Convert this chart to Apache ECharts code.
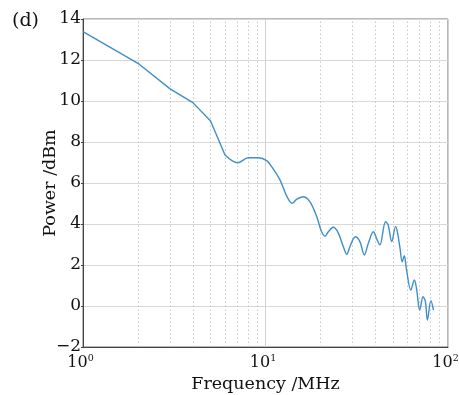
<!DOCTYPE html>
<html><head><meta charset="utf-8">
<script src="https://cdn.jsdelivr.net/npm/echarts@6/dist/echarts.min.js"></script>
<style>html,body{margin:0;padding:0;background:#fff}#c{width:459px;height:395px}</style>
</head><body><div id="c"></div>
<script>
var freqA = [1, 2, 3, 4, 5, 6];
var powerA = [13.38, 11.84, 10.59, 9.92, 9.02, 7.37];
var freqB = [6, 7.04, 8.05, 9.13, 10.15, 10.8, 12.0, 13.17, 14.0, 14.8, 16.1, 17.5, 19.07, 20.3, 21.2, 22.1, 23.5, 25.0, 26.7, 27.9, 29.0, 31.1, 32.9, 34.8, 36.6, 39.0, 41.0, 42.3, 45.5, 47.0, 49.2, 51.6, 52.8, 54.6, 56.1, 57.6, 59.1, 62.6, 65.4, 67.2, 70.0, 73.0, 75.2, 77.1, 80.6, 83.2];
var powerB = [7.37, 6.99, 7.23, 7.23, 7.09, 6.8, 6.15, 5.30, 5.01, 5.20, 5.33, 5.09, 4.36, 3.62, 3.41, 3.62, 3.84, 3.58, 2.89, 2.52, 2.89, 3.38, 3.14, 2.49, 3.06, 3.62, 3.2, 2.98, 4.11, 3.95, 3.14, 3.87, 3.62, 2.81, 2.16, 2.45, 1.84, 0.78, 1.27, 0.86, -0.2, 0.45, 0.21, -0.68, 0.26, -0.2];
var yTicks = [-2, 0, 2, 4, 6, 8, 10, 12, 14];
var minorX = [2, 3, 4, 5, 6, 7, 8, 9, 20, 30, 40, 50, 60, 70, 80, 90];

function pairs(xs, ys) { return xs.map(function (f, i) { return [f, ys[i]]; }); }
var FONT = 'DejaVu Serif';
var LINE = { color: '#3f8fc8', width: 1.4 };
var chart = echarts.init(document.getElementById('c'));
chart.setOption({
  animation: false,
  backgroundColor: '#fff',
  grid: { left: 83, top: 19, right: 11, bottom: 48, show: true, borderColor: '#707070', borderWidth: 1, outerBoundsMode: 'none', containLabel: false },
  title: { text: '(d)', left: 7, top: 7, textStyle: { fontFamily: FONT, fontSize: 19, fontWeight: 'normal', color: '#111' } },
  xAxis: {
    type: 'log', logBase: 10, min: 1, max: 100,
    name: 'Frequency /MHz', nameLocation: 'middle', nameGap: 28, nameMoveOverlap: false,
    nameTextStyle: { fontFamily: FONT, fontSize: 17.5, color: '#111' },
    axisLine: { onZero: false, lineStyle: { color: '#444', width: 1 } },
    axisTick: { show: false },
    splitLine: { show: true, lineStyle: { color: '#d0d0d0', width: 1 } },
    axisLabel: {
      margin: 7, padding: [0, 5, 0, 0],
      formatter: function (v) { var e = Math.round(Math.log10(v)); return '{b|10}{s|' + e + '}'; },
      rich: { b: { fontFamily: FONT, fontSize: 16, color: '#111' }, s: { fontFamily: FONT, fontSize: 9.5, color: '#111', verticalAlign: 'top', padding: [0, 0, 7, 0] } }
    }
  },
  yAxis: {
    type: 'value', min: -2, max: 14, interval: 2,
    name: 'Power /dBm', nameLocation: 'middle', nameGap: 24, nameMoveOverlap: false,
    nameTextStyle: { fontFamily: FONT, fontSize: 17.5, color: '#111' },
    axisLine: { show: true, onZero: false, lineStyle: { color: '#444', width: 1 } },
    axisTick: { show: true, inside: false, length: 2, lineStyle: { color: '#444' } },
    splitLine: { show: true, lineStyle: { color: '#d8d8d8', width: 1 } },
    axisLabel: {
      margin: 2, fontFamily: FONT, fontSize: 17, color: '#111',
      formatter: function (v) { return (v < 0 ? '\u2212' + (-v) : String(v)); }
    }
  },
  series: [{
    type: 'line', data: pairs(freqA, powerA), showSymbol: false, smooth: false,
    lineStyle: LINE, z: 5,
    markLine: {
      silent: true, symbol: ['none', 'none'], label: { show: false },
      lineStyle: { color: '#c8c8c8', type: [1.5, 2.5], width: 1 },
      data: minorX.map(function (v) { return { xAxis: v }; })
    }
  }, {
    type: 'line', data: pairs(freqB, powerB), showSymbol: false, smooth: 0.35,
    lineStyle: LINE, z: 5
  }]
});
</script></body></html>
